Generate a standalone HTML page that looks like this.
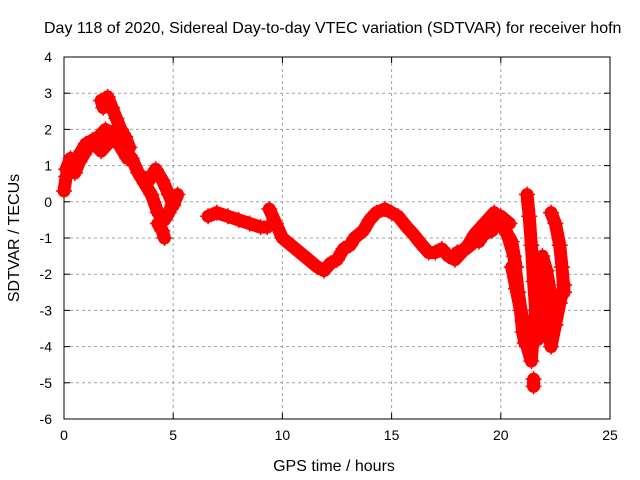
<!DOCTYPE html>
<html><head><meta charset="utf-8"><style>
body{margin:0;background:#fff;}
svg{display:block;font-family:"Liberation Sans",sans-serif;}
</style></head><body>
<svg id="c" width="640" height="480" viewBox="0 0 640 480">
<text x="44" y="33" font-size="16" fill="#000">Day 118 of 2020, Sidereal Day-to-day VTEC variation (SDTVAR) for receiver hofn</text>
<text x="334" y="471" font-size="16" text-anchor="middle">GPS time / hours</text>
<text transform="translate(19,238) rotate(-90)" font-size="16" text-anchor="middle">SDTVAR / TECUs</text>
<g id="grid"></g><g id="axes"></g><g id="series"></g>
</svg>
<script>
const xTicks=[0,5,10,15,20,25];
const yTicks=[4,3,2,1,0,-1,-2,-3,-4,-5,-6];
const segTimes=[
[0.0,0.1,0.3,0.5,0.8,1.0,1.3,1.6,1.9,2.2,2.5,2.8,3.1,3.4,3.7,4.0,4.3,4.6,4.8,5.0,5.1],
[0.1,0.3,0.5,0.7,0.9,1.1,1.4,1.7,2.0,2.3,2.6,2.9],
[1.7,1.8,1.9,2.0,2.2,2.4,2.6,2.8,3.0],
[3.6,3.9,4.2,4.5,4.8,5.0,5.2],
[4.3,4.5,4.6],
[6.6,7.0,7.5,8.0,8.5,9.0,9.3],
[9.4,9.7,10.0,10.4,10.8,11.2,11.6,11.9,12.2,12.5,12.8,13.1,13.3,13.7,14.0,14.3,14.7,15.0,15.3,15.7,16.0,16.4,16.7,17.0,17.3,17.6,17.9,18.2,18.5,18.8,19.1,19.4,19.7,20.0,20.3,20.6,20.8,21.0,21.2,21.4,21.5,21.7,21.9,22.1,22.3,22.5,22.7,22.9],
[18.0,18.4,18.8,19.2,19.6,20.0,20.4],
[19.0,19.3,19.6,19.9,20.2,20.5,20.7],
[20.5,20.7,20.9,21.0,21.1],
[21.2,21.3,21.4,21.5,21.6,21.7],
[21.9,22.1,22.3,22.5,22.6],
[22.3,22.5,22.7,22.8,22.9],
[21.5,21.5]
];
const segValues=[
[0.3,0.7,1.0,1.1,1.4,1.6,1.7,1.8,2.0,1.9,1.6,1.4,1.2,0.8,0.5,0.2,-0.3,-0.5,-0.3,0.0,0.1],
[0.9,1.2,0.8,1.1,1.3,1.5,1.6,1.4,1.6,1.8,1.5,1.2],
[2.8,2.6,2.8,2.9,2.6,2.3,2.0,1.8,1.5],
[0.7,0.6,0.9,0.6,0.2,-0.1,0.2],
[-0.6,-0.8,-1.0],
[-0.4,-0.3,-0.4,-0.5,-0.6,-0.7,-0.7],
[-0.2,-0.6,-1.0,-1.2,-1.4,-1.6,-1.8,-1.9,-1.7,-1.6,-1.3,-1.2,-1.0,-0.8,-0.5,-0.3,-0.2,-0.3,-0.4,-0.7,-0.9,-1.2,-1.4,-1.4,-1.3,-1.5,-1.6,-1.4,-1.2,-0.9,-0.7,-0.5,-0.3,-0.6,-0.9,-1.5,-2.5,-3.3,-4.0,-4.4,-3.5,-2.4,-1.5,-1.9,-2.6,-3.4,-2.8,-2.3],
[-1.4,-1.3,-1.1,-0.9,-0.8,-0.4,-0.6],
[-1.1,-0.8,-0.6,-0.5,-0.8,-1.1,-1.8],
[-1.8,-2.4,-3.0,-3.6,-3.9],
[0.2,-0.4,-1.2,-2.2,-3.0,-3.8],
[-2.5,-3.3,-4.0,-3.4,-2.8],
[-0.3,-0.6,-1.2,-1.8,-2.5],
[-4.9,-5.1]
];
const NS="http://www.w3.org/2000/svg";
const L=64,R=610,T=57,B=419;
function sx(t){return L+(t-0)/(25-0)*(R-L);}
function sy(v){return B-(v+6)/(10)*(B-T);}
function mk(tag,a,p){const e=document.createElementNS(NS,tag);for(const k in a)e.setAttribute(k,a[k]);p.appendChild(e);return e;}
const grid=document.getElementById('grid'),axes=document.getElementById('axes'),ser=document.getElementById('series');
xTicks.forEach(t=>{
 const x=sx(t);
 if(t>0&&t<25){const g=mk('line',{x1:x,y1:T,x2:x,y2:B,stroke:'#a0a0a0','stroke-dasharray':'3,3'},grid);
 
 }
 mk('line',{x1:x,y1:B,x2:x,y2:B-6,stroke:'#000'},axes);
 mk('line',{x1:x,y1:T,x2:x,y2:T+6,stroke:'#000'},axes);
 const tx=mk('text',{x:x,y:B+21,'font-size':14,'text-anchor':'middle'},axes);tx.textContent=t;
 
 
});
yTicks.forEach(v=>{
 const y=sy(v);
 if(v<4&&v>-6){const g=mk('line',{x1:L,y1:y,x2:R,y2:y,stroke:'#a0a0a0','stroke-dasharray':'3,3'},grid);
 
 }
 mk('line',{x1:L,y1:y,x2:L+6,y2:y,stroke:'#000'},axes);
 mk('line',{x1:R,y1:y,x2:R-6,y2:y,stroke:'#000'},axes);
 const tx=mk('text',{x:L-12,y:y+5,'font-size':14,'text-anchor':'end'},axes);tx.textContent=v;
 
 
});
const fr=mk('rect',{x:L,y:T,width:R-L,height:B-T,fill:'none',stroke:'#000'},axes);


segTimes.forEach((ts,i)=>{
 const vs=segValues[i];
 const pts=ts.map((t,j)=>sx(t)+','+sy(vs[j])).join(' ');
 const pl=mk('polyline',{points:pts,fill:'none',stroke:'#ff0000','stroke-width':13,'stroke-linejoin':'round','stroke-linecap':'round'},ser);
 
 
 ts.forEach((t,j)=>{
  const x=sx(t),y=sy(vs[j]);
  const p=mk('path',{d:`M${x-8},${y}H${x+8}M${x},${y-8}V${y+8}`,stroke:'#ff0000','stroke-width':1.5},ser);
  
  
 });
});
</script>
</body></html>
